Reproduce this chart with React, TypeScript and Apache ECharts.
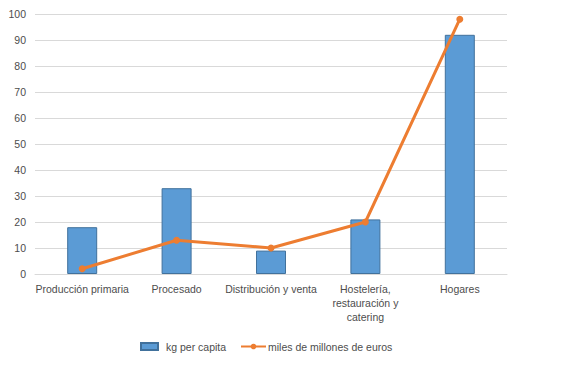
import React, { useEffect, useRef } from "react";
import * as echarts from "echarts";

const categories = [
  "Producción primaria",
  "Procesado",
  "Distribución y venta",
  "Hostelería,\nrestauración y\ncatering",
  "Hogares",
];
const kgPerCapita = [18, 33, 9, 21, 92];
const milesMillonesEuros = [2, 13, 10, 20, 98];
const yTicks = { min: 0, max: 100, interval: 10 };

const FONT = "'Liberation Sans', 'DejaVu Sans', sans-serif";
const TEXT = "#4d4d4d";
const FS = 10.5;

export default function App() {
  const ref = useRef<HTMLDivElement>(null);
  useEffect(() => {
    if (!ref.current) return;
    const chart = echarts.init(ref.current, undefined, { renderer: "svg" });
    chart.setOption({
      animation: false,
      backgroundColor: "#ffffff",
      textStyle: { fontFamily: FONT },
      grid: { left: 35, right: 67, top: 14, bottom: 91 },
      xAxis: {
        type: "category",
        data: categories,
        axisLine: { show: true, lineStyle: { color: "#d9d9d9", width: 1 } },
        axisTick: { show: false },
        axisLabel: {
          color: TEXT,
          fontSize: FS,
          fontFamily: FONT,
          margin: 8,
          lineHeight: 14,
          interval: 0,
        },
      },
      yAxis: {
        type: "value",
        min: yTicks.min,
        max: yTicks.max,
        interval: yTicks.interval,
        axisLine: { show: false },
        axisTick: { show: false },
        splitLine: { lineStyle: { color: "#d9d9d9", width: 1 } },
        axisLabel: { color: TEXT, fontSize: FS, fontFamily: FONT, margin: 9 },
      },
      legend: [
        {
          data: [{ name: "kg per capita", icon: "rect" }],
          left: 140,
          top: 341,
          itemWidth: 17,
          itemHeight: 7,
          itemGap: 0,
          textStyle: { color: TEXT, fontSize: FS, fontFamily: FONT, padding: [0, 0, 0, 3] },
          padding: 0,
        },
        {
          data: ["miles de millones de euros"],
          left: 240,
          top: 341,
          itemWidth: 25,
          itemHeight: 7,
          textStyle: { color: TEXT, fontSize: FS, fontFamily: FONT, padding: [0, 0, 0, -3] },
          padding: 0,
        },
      ],
      series: [
        {
          name: "kg per capita",
          type: "bar",
          data: kgPerCapita,
          barWidth: 30,
          itemStyle: { color: "#5B9BD5", borderColor: "#41719C", borderWidth: 1 },
        },
        {
          name: "miles de millones de euros",
          type: "line",
          data: milesMillonesEuros,
          symbol: "circle",
          symbolSize: 7,
          lineStyle: { color: "#ED7D31", width: 3 },
          itemStyle: { color: "#ED7D31" },
        },
      ],
    });
    return () => chart.dispose();
  }, []);
  return <div ref={ref} style={{ width: 574, height: 365, position: "absolute", left: 0, top: 0 }} />;
}
